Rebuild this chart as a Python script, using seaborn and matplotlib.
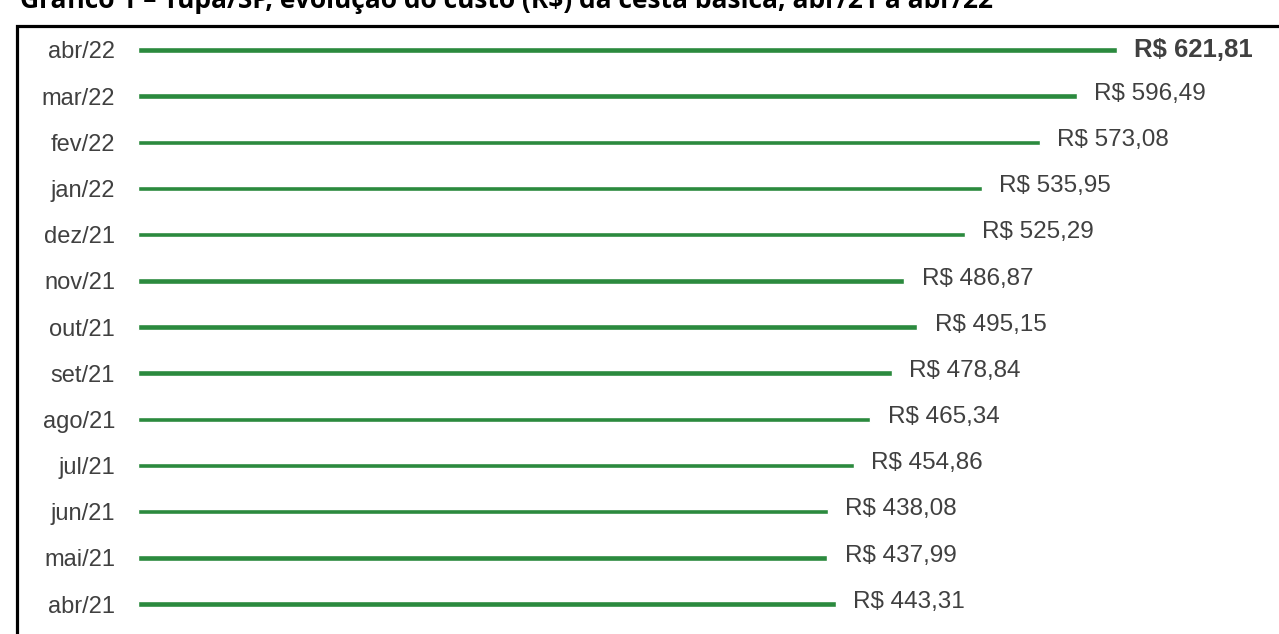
import matplotlib
matplotlib.use("Agg")
import matplotlib.pyplot as plt
import seaborn as sns
import pandas as pd
from matplotlib.patches import Rectangle

meses = ["abr/22", "mar/22", "fev/22", "jan/22", "dez/21", "nov/21", "out/21",
         "set/21", "ago/21", "jul/21", "jun/21", "mai/21", "abr/21"]
custos = [621.81, 596.49, 573.08, 535.95, 525.29, 486.87, 495.15,
          478.84, 465.34, 454.86, 438.08, 437.99, 443.31]
titulo = "Gráfico 1 – Tupã/SP, evolução do custo (R$) da cesta básica, abr/21 a abr/22"

df = pd.DataFrame({"mes": meses, "custo": custos})

sns.set_style("white")
plt.rcParams["font.family"] = ["Liberation Sans", "DejaVu Sans"]

W, H = 1279, 634
fig = plt.figure(figsize=(W / 100, H / 100), dpi=100)

# axes placed so x=0 sits at ~138px and rows span 50..604px
x0, px_per_unit = 138, 1.574
row_top, row_bot = 50, 604
step = (row_bot - row_top) / 12
ax_top = row_top - step / 2
ax_bot = row_bot + step / 2
ax = fig.add_axes([x0 / W, 1 - ax_bot / H, (W - x0) / W, (ax_bot - ax_top) / H])

sns.barplot(data=df, x="custo", y="mes", order=meses, orient="h",
            color="#2b8a3e", width=0.12, saturation=1, ax=ax)

ax.set_xlim(0, (W - x0) / px_per_unit)
ax.set_ylim(len(meses) - 0.5, -0.5)
ax.set_xlabel("")
ax.set_ylabel("")
ax.set_xticks([])
sns.despine(ax=ax, left=True, bottom=True)
ax.tick_params(axis="y", length=0, pad=16.5, labelsize=17, labelcolor="#404040")

for i, v in enumerate(custos):
    txt = "R$ " + f"{v:.2f}".replace(".", ",")
    if i == 0:
        ax.text(v + 11, i, txt, va="center", ha="left", fontsize=18.5,
                color="#404040", fontweight="bold")
    else:
        ax.text(v + 11, i - 0.05, txt, va="center", ha="left", fontsize=17.5,
                color="#404040")

# outer frame (cropped at right/bottom)
fig.patches.append(Rectangle((17 / W, -0.1), 1.2, 1.1 - 26 / H,
                             transform=fig.transFigure, fill=False,
                             edgecolor="black", linewidth=2.3))

# title, mostly cut off at the top edge as in the source image
fig.text(20 / W, 1 - 8 / H, titulo, ha="left", va="baseline",
         fontsize=19, fontweight="bold", color="black",
         family=["Open Sans", "DejaVu Sans"])

fig.savefig("out.png", dpi=100)
